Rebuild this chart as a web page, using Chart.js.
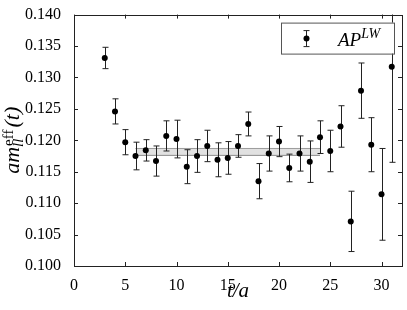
<!DOCTYPE html>
<html>
<head>
<meta charset="utf-8">
<script src="https://cdn.jsdelivr.net/npm/chart.js@4.4.1/dist/chart.umd.min.js"></script>
<style>
  html, body { margin: 0; padding: 0; background: #fff; }
  #wrap { width: 407px; height: 310px; }
</style>
</head>
<body>
<div id="wrap"><canvas id="effMassChart" width="407" height="310"></canvas></div>
<script>
// effective mass data
var tValues = [3, 4, 5, 6, 7, 8, 9, 10, 11, 12, 13, 14, 15, 16, 17, 18, 19, 20, 21, 22, 23, 24, 25, 26, 27, 28, 29, 30, 31];
var massValues = [0.1331, 0.1246, 0.1197, 0.1175, 0.1184, 0.1167, 0.1207, 0.1202, 0.1158, 0.1175,
                  0.1191, 0.1169, 0.1172, 0.1191, 0.1226, 0.1135, 0.1179, 0.1198, 0.1156, 0.1179,
                  0.1166, 0.1205, 0.1183, 0.1222, 0.1071, 0.1279, 0.1193, 0.1114, 0.1317];
var massErrors = [0.0017, 0.0020, 0.0020, 0.0022, 0.0017, 0.0024, 0.0024, 0.0030, 0.0027, 0.0026,
                  0.0025, 0.0027, 0.0026, 0.0018, 0.0019, 0.0028, 0.0028, 0.0024, 0.0022, 0.0028,
                  0.0033, 0.0026, 0.0033, 0.0033, 0.0048, 0.0044, 0.0043, 0.0073, 0.0152];

// plateau fit
var fitRange = [6, 24];
var fitValue = 0.11815;
var fitError = 0.00055;

var xTicks = [0, 5, 10, 15, 20, 25, 30];
var yTicks = [0.100, 0.105, 0.110, 0.115, 0.120, 0.125, 0.130, 0.135, 0.140];
var legendLabel = 'AP';
var legendSup = 'LW';

var serif = '"Liberation Serif", "DejaVu Serif", serif';

var points = tValues.map(function (t, i) {
    return { x: t, y: massValues[i], err: massErrors[i] };
});

var bandUpper = fitRange.map(function (t) { return { x: t, y: fitValue + fitError }; });
var bandLower = fitRange.map(function (t) { return { x: t, y: fitValue - fitError }; });

function drawErrorBar(ctx, x, yTop, yBot, cap) {
    ctx.beginPath();
    ctx.moveTo(x, yTop);
    ctx.lineTo(x, yBot);
    ctx.moveTo(x - cap, yTop);
    ctx.lineTo(x + cap, yTop);
    ctx.moveTo(x - cap, yBot);
    ctx.lineTo(x + cap, yBot);
    ctx.stroke();
}

var errorBars = {
    id: 'errorBars',
    beforeDatasetDraw: function (chart, args) {
        if (args.index !== 2) return;
        var ctx = chart.ctx, area = chart.chartArea;
        var xs = chart.scales.x, ys = chart.scales.y;
        ctx.save();
        ctx.beginPath();
        ctx.rect(area.left, area.top, area.right - area.left, area.bottom - area.top);
        ctx.clip();
        ctx.strokeStyle = '#222';
        ctx.lineWidth = 1;
        points.forEach(function (p) {
            var px = Math.round(xs.getPixelForValue(p.x)) + 0.5;
            drawErrorBar(ctx, px, ys.getPixelForValue(p.y + p.err), ys.getPixelForValue(p.y - p.err), 3);
        });
        ctx.restore();
    }
};

// frame on all four sides with inward ticks (classic matplotlib look)
var frame = {
    id: 'frame',
    afterDraw: function (chart) {
        var ctx = chart.ctx, a = chart.chartArea;
        var xs = chart.scales.x, ys = chart.scales.y;
        var len = 4;
        ctx.save();
        ctx.strokeStyle = '#222';
        ctx.lineWidth = 1;
        ctx.strokeRect(Math.round(a.left) + 0.5, Math.round(a.top) + 0.5,
                       Math.round(a.right - a.left), Math.round(a.bottom - a.top));
        ctx.beginPath();
        xTicks.forEach(function (v) {
            var px = Math.round(xs.getPixelForValue(v)) + 0.5;
            ctx.moveTo(px, a.bottom); ctx.lineTo(px, a.bottom - len);
            ctx.moveTo(px, a.top); ctx.lineTo(px, a.top + len);
        });
        yTicks.forEach(function (v) {
            var py = Math.round(ys.getPixelForValue(v)) + 0.5;
            ctx.moveTo(a.left, py); ctx.lineTo(a.left + len, py);
            ctx.moveTo(a.right, py); ctx.lineTo(a.right - len, py);
        });
        ctx.stroke();

        // legend box
        var bx = a.right - 121, by = a.top + 8, bw = 113, bh = 31;
        ctx.fillStyle = '#fff';
        ctx.fillRect(bx, by, bw, bh);
        ctx.strokeStyle = '#555';
        ctx.strokeRect(bx + 0.5, by + 0.5, bw, bh);
        var sx = bx + 25.5, sy = by + bh / 2 + 0.5;
        ctx.strokeStyle = '#222';
        drawErrorBar(ctx, sx, sy - 8, sy + 8, 3);
        ctx.fillStyle = '#000';
        ctx.beginPath();
        ctx.arc(sx, sy, 3, 0, Math.PI * 2);
        ctx.fill();
        ctx.textBaseline = 'alphabetic';
        ctx.textAlign = 'left';
        ctx.font = 'italic 19px ' + serif;
        var tx = bx + 57, ty = by + 23;
        ctx.fillText(legendLabel, tx, ty);
        tx += ctx.measureText(legendLabel).width;
        ctx.font = 'italic 14px ' + serif;
        ctx.fillText(legendSup, tx, ty - 8);

        // y axis title: a m_ll^eff (t)
        ctx.translate(19, (a.top + a.bottom) / 2);
        ctx.rotate(-Math.PI / 2);
        var parts = [
            { t: 'am', f: 'italic 22px ' },
            { t: 'll', f: 'italic 15px ' },
            { t: 'eff', f: '15px ' },
            { t: '(t)', f: 'italic 22px ' }
        ];
        parts.forEach(function (p) {
            ctx.font = p.f + serif;
            p.w = ctx.measureText(p.t).width;
        });
        var scriptW = Math.max(parts[1].w, parts[2].w + 1);
        var total = parts[0].w + scriptW + 2 + parts[3].w;
        var cx = -total / 2;
        ctx.font = parts[0].f + serif; ctx.fillText(parts[0].t, cx, 0);
        cx += parts[0].w;
        ctx.font = parts[1].f + serif; ctx.fillText(parts[1].t, cx, 4);
        ctx.font = parts[2].f + serif; ctx.fillText(parts[2].t, cx + 1, -6);
        cx += scriptW + 2;
        ctx.font = parts[3].f + serif; ctx.fillText(parts[3].t, cx, 0);
        ctx.restore();
    }
};

var ctx = document.getElementById('effMassChart').getContext('2d');

var myChart = new Chart(ctx, {
    type: 'scatter',
    data: {
        datasets: [{
            label: 'fit upper',
            data: bandUpper,
            showLine: true,
            borderColor: '#8c8c8c',
            borderWidth: 1,
            pointRadius: 0,
            fill: false,
            order: 3
        }, {
            label: 'fit lower',
            data: bandLower,
            showLine: true,
            borderColor: '#8c8c8c',
            borderWidth: 1,
            pointRadius: 0,
            fill: '-1',
            backgroundColor: 'rgba(200, 200, 200, 0.55)',
            order: 2
        }, {
            label: legendLabel,
            data: points,
            pointRadius: 3,
            pointBackgroundColor: '#000',
            pointBorderWidth: 0,
            showLine: false,
            order: 1
        }]
    },
    options: {
        responsive: false,
        animation: false,
        layout: { padding: { top: 13, right: 5, left: 0, bottom: 0 } },
        plugins: {
            legend: { display: false },
            tooltip: { enabled: false },
            filler: { propagate: false }
        },
        scales: {
            x: {
                type: 'linear',
                min: 0,
                max: 32,
                grid: { display: false },
                border: { display: false },
                ticks: {
                    stepSize: 5,
                    includeBounds: false,
                    color: '#000',
                    padding: 2,
                    maxRotation: 0,
                    font: { family: serif, size: 16 }
                },
                title: {
                    display: true,
                    text: 't/a',
                    color: '#000',
                    padding: { top: 0, bottom: 6 },
                    font: { family: serif, size: 21, style: 'italic' }
                },
                afterFit: function (scale) { scale.height = 44; }
            },
            y: {
                type: 'linear',
                min: 0.100,
                max: 0.140,
                grid: { display: false },
                border: { display: false },
                ticks: {
                    stepSize: 0.005,
                    color: '#000',
                    padding: 5,
                    font: { family: serif, size: 16 },
                    callback: function (v) { return v.toFixed(3); }
                },
                afterFit: function (scale) { scale.width = 74; }
            }
        }
    },
    plugins: [errorBars, frame]
});
</script>
</body>
</html>
